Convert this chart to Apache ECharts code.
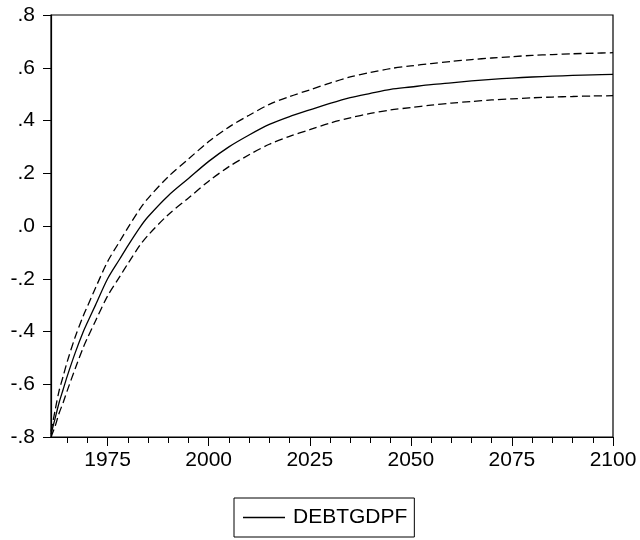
<!DOCTYPE html>
<html><head><meta charset="utf-8">
<script src="https://cdn.jsdelivr.net/npm/echarts@6/dist/echarts.min.js"></script>
<style>html,body{margin:0;padding:0;background:#fff}#c{width:640px;height:540px}</style>
</head><body><div id="c"></div>
<script>
const years = [1961,1962,1963,1964,1965,1967,1969,1970,1972,1975,1978,1980,1983,1985,1990,1995,2000,2005,2010,2015,2020,2025,2030,2035,2040,2045,2050,2055,2060,2065,2070,2075,2080,2085,2090,2095,2100];
const forecast = [-0.79,-0.73,-0.67,-0.62,-0.57,-0.48,-0.40,-0.366,-0.30,-0.20,-0.125,-0.075,-0.005,0.035,0.115,0.18,0.245,0.30,0.345,0.385,0.415,0.44,0.465,0.487,0.503,0.518,0.527,0.536,0.543,0.55,0.556,0.561,0.565,0.568,0.571,0.573,0.575];
const upperBand = [-0.78,-0.70,-0.625,-0.57,-0.515,-0.42,-0.34,-0.305,-0.235,-0.135,-0.058,-0.007,0.065,0.105,0.187,0.254,0.32,0.375,0.42,0.461,0.491,0.516,0.542,0.565,0.582,0.597,0.607,0.616,0.624,0.631,0.637,0.642,0.647,0.650,0.653,0.655,0.657];
const lowerBand = [-0.80,-0.76,-0.71,-0.67,-0.625,-0.54,-0.46,-0.425,-0.36,-0.265,-0.192,-0.143,-0.073,-0.035,0.043,0.106,0.17,0.225,0.27,0.31,0.34,0.365,0.39,0.41,0.427,0.44,0.449,0.458,0.466,0.472,0.478,0.482,0.486,0.489,0.491,0.493,0.494];
const majorTicks = [1975,2000,2025,2050,2075,2100];
const minorTicks = [1965,1970,1975,1980,1985,1990,1995,2000,2005,2010,2015,2020,2025,2030,2035,2040,2045,2050,2055,2060,2065,2070,2075,2080,2085,2090,2095];
const seriesName = 'DEBTGDPF';

const pairs = arr => years.map((y, i) => [y, arr[i]]);
const fmtY = v => { const s = Number(v).toFixed(1); return s.replace('0.', '.'); };
const font = 'Liberation Sans, Arial, sans-serif';

const chart = echarts.init(document.getElementById('c'), null, {renderer: 'canvas'});
chart.setOption({
  animation: false,
  backgroundColor: '#fff',
  grid: {left: 51, right: 27, top: 15, bottom: 103, show: true, borderColor: '#000', borderWidth: 1.2, backgroundColor: 'transparent'},
  legend: {
    data: [{name: seriesName, icon: 'rect'}],
    left: 234, top: 498,
    padding: [9, 7, 9, 9],
    borderColor: '#000', borderWidth: 1,
    itemWidth: 42, itemHeight: 1.4,
    itemStyle: {color: '#000'},
    textStyle: {fontFamily: font, fontSize: 21, color: '#000', padding: [0, 0, 0, 3]},
    selectedMode: false
  },
  xAxis: [{
    type: 'value', min: 1961, max: 2100,
    axisLine: {show: true, onZero: false, lineStyle: {color: '#000', width: 1.2}},
    axisTick: {show: true, customValues: majorTicks, length: 9, lineStyle: {color: '#000', width: 1}},
    axisLabel: {show: true, customValues: majorTicks, margin: 13, fontFamily: font, fontSize: 21, color: '#000', formatter: v => String(v)},
    splitLine: {show: false}
  }, {
    type: 'value', min: 1961, max: 2100, position: 'bottom', gridIndex: 0,
    axisLine: {show: false, onZero: false},
    axisTick: {show: true, customValues: minorTicks, length: 6, lineStyle: {color: '#000', width: 1}},
    axisLabel: {show: false},
    splitLine: {show: false}
  }],
  yAxis: {
    type: 'value', min: -0.8, max: 0.8, interval: 0.2,
    axisLine: {show: true, onZero: false, lineStyle: {color: '#000', width: 1.2}},
    axisTick: {show: true, length: 8, lineStyle: {color: '#000', width: 1}},
    axisLabel: {margin: 16, fontFamily: font, fontSize: 21, color: '#000', formatter: fmtY},
    splitLine: {show: false}
  },
  series: [
    {name: seriesName, type: 'line', data: pairs(forecast), smooth: 0.3, symbol: 'none', lineStyle: {color: '#000', width: 1.3}, itemStyle: {color: '#000'}},
    {name: 'upper', type: 'line', data: pairs(upperBand), smooth: 0.3, symbol: 'none', lineStyle: {color: '#000', width: 1.3, type: [8, 4]}},
    {name: 'lower', type: 'line', data: pairs(lowerBand), smooth: 0.3, symbol: 'none', lineStyle: {color: '#000', width: 1.3, type: [8, 4]}}
  ]
});
</script></body></html>
